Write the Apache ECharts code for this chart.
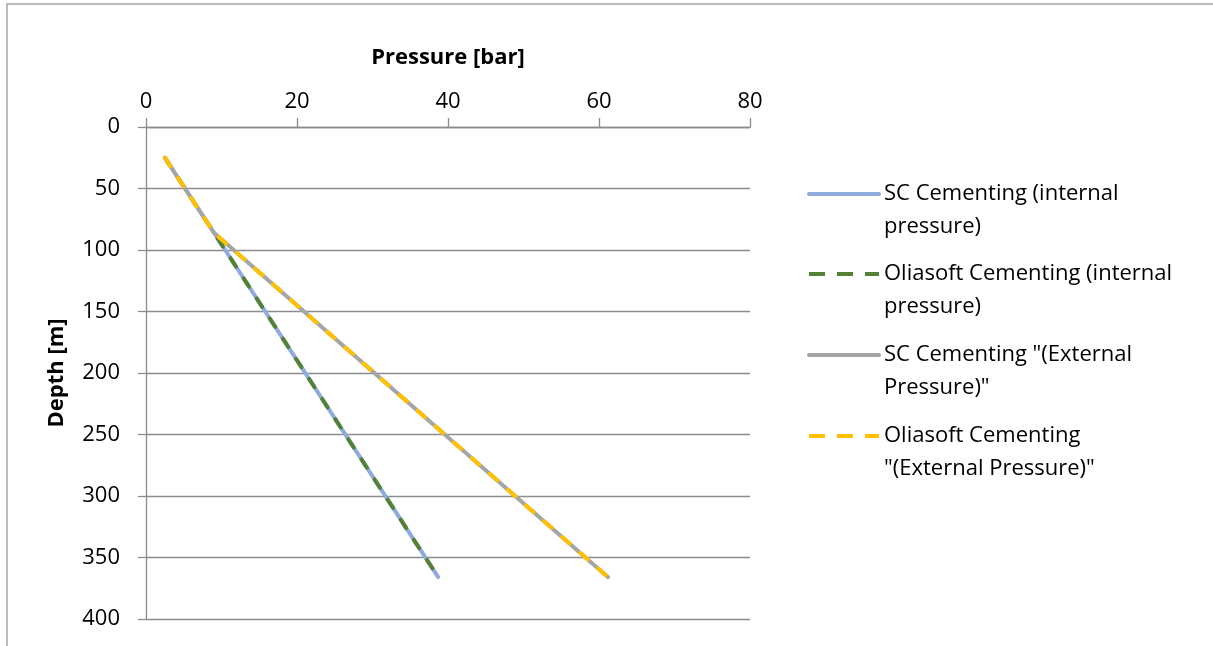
<!DOCTYPE html>
<html>
<head>
<meta charset="utf-8">
<script src="https://cdn.jsdelivr.net/npm/echarts@6/dist/echarts.min.js"></script>
<style>
  html, body { margin: 0; padding: 0; background: #fff; }
  #chart { width: 1213px; height: 646px; }
</style>
</head>
<body>
<div id="chart"></div>
<script>
// Depth stations [m]
var depths = [25, 86, 366];
// Pressures [bar] at each depth station
var scInternal = [2.5, 9.0, 38.7];
var oliInternal = [2.5, 9.0, 38.7];
var scExternal = [2.5, 9.0, 61.2];
var oliExternal = [2.5, 9.0, 61.2];

var seriesNames = [
  'SC Cementing (internal pressure)',
  'Oliasoft Cementing (internal pressure)',
  'SC Cementing "(External Pressure)"',
  'Oliasoft Cementing "(External Pressure)"'
];
// legend text, wrapped over two lines
var legendLines = [
  ['SC Cementing (internal', 'pressure)'],
  ['Oliasoft Cementing (internal', 'pressure)'],
  ['SC Cementing "(External', 'Pressure)"'],
  ['Oliasoft Cementing', '"(External Pressure)"']
];
var xTicks = [0, 20, 40, 60, 80];
var yTicks = [0, 50, 100, 150, 200, 250, 300, 350, 400];

var FONT = 'Open Sans';
var GRID_COLOR = '#8c8c8c';

function pairs(xs) {
  return xs.map(function (x, i) { return [x, depths[i]]; });
}

var styles = [
  { color: '#8faadc', dashed: false },
  { color: '#548235', dashed: true },
  { color: '#a5a5a5', dashed: false },
  { color: '#ffc000', dashed: true }
];
var values = [scInternal, oliInternal, scExternal, oliExternal];

var series = values.map(function (v, i) {
  return {
    name: seriesNames[i],
    type: 'line',
    symbol: 'none',
    data: pairs(v),
    lineStyle: {
      color: styles[i].color, width: 4,
      type: styles[i].dashed ? [10, 14] : 'solid',
      cap: 'round', join: 'round'
    },
    itemStyle: { color: styles[i].color },
    emphasis: { disabled: true },
    z: 2 + i
  };
});

var legendNameMap = {};
seriesNames.forEach(function (n, i) {
  // leading empty line keeps the icon level with the first text line
  legendNameMap[n] = '\n' + legendLines[i][0] + '\n' + legendLines[i][1];
});

var legendTops = [189, 269, 350, 431];
var legends = seriesNames.map(function (n, i) {
  return {
    orient: 'vertical',
    left: 802,
    top: legendTops[i] - 49.5,
    itemWidth: 70,
    itemHeight: 14,
    selectedMode: false,
    data: [n],
    formatter: function (name) { return legendNameMap[name]; },
    textStyle: { fontFamily: FONT, fontSize: 22, color: '#000', lineHeight: 33 },
    itemStyle: { opacity: 0 },
    lineStyle: {
      color: styles[i].color, width: 4,
      type: styles[i].dashed ? [16, 12] : 'solid',
      cap: styles[i].dashed ? 'butt' : 'round'
    }
  };
});

var chart = echarts.init(document.getElementById('chart'), null, { renderer: 'canvas' });
chart.setOption({
  backgroundColor: '#fff',
  animation: false,
  graphic: [{
    type: 'rect',
    shape: { x: 7, y: 4, width: 1240, height: 700 },
    style: { fill: 'none', stroke: '#a6a6a6', lineWidth: 1.5 },
    silent: true
  }],
  grid: { left: 146, top: 127, width: 604, height: 492, containLabel: false },
  legend: legends,
  xAxis: {
    type: 'value',
    position: 'top',
    min: xTicks[0],
    max: xTicks[xTicks.length - 1],
    interval: xTicks[1] - xTicks[0],
    name: 'Pressure [bar]',
    nameLocation: 'middle',
    nameGap: 58,
    nameTextStyle: { fontFamily: FONT, fontSize: 22, fontWeight: 'bold', color: '#000' },
    axisLine: { show: true, lineStyle: { color: GRID_COLOR, width: 1.3 } },
    axisTick: { show: true, inside: false, length: 9, lineStyle: { color: GRID_COLOR, width: 1.3 } },
    axisLabel: { fontFamily: FONT, fontSize: 22, color: '#000', margin: 14 },
    splitLine: { show: false }
  },
  yAxis: {
    type: 'value',
    inverse: true,
    min: yTicks[0],
    max: yTicks[yTicks.length - 1],
    interval: yTicks[1] - yTicks[0],
    name: 'Depth [m]',
    nameLocation: 'middle',
    nameGap: 78,
    nameTextStyle: { fontFamily: FONT, fontSize: 22, fontWeight: 'bold', color: '#000' },
    axisLine: { show: true, lineStyle: { color: GRID_COLOR, width: 1.3 } },
    axisTick: { show: true, inside: false, length: 8, lineStyle: { color: GRID_COLOR, width: 1.3 } },
    axisLabel: { fontFamily: FONT, fontSize: 22, color: '#000', margin: 26 },
    splitLine: { show: true, lineStyle: { color: GRID_COLOR, width: 1.3 } }
  },
  series: series
});
</script>
</body>
</html>
